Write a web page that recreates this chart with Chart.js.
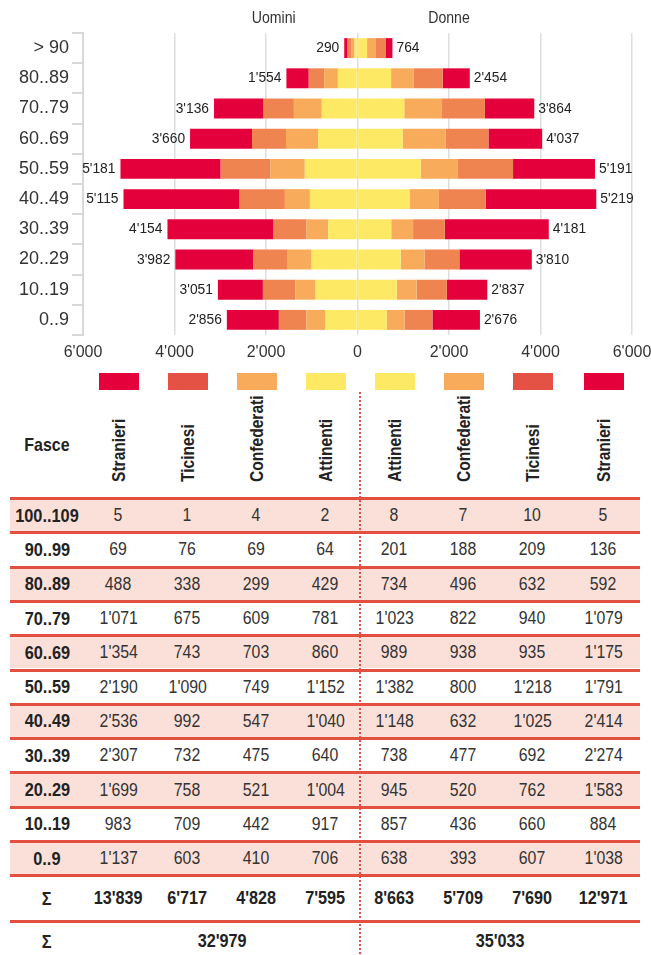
<!DOCTYPE html>
<html>
<head>
<meta charset="utf-8">
<script src="https://cdn.jsdelivr.net/npm/chart.js@4/dist/chart.umd.min.js"></script>
<style>
  body { margin: 0; background: #fff; }
  #page { position: relative; width: 651px; height: 955px; overflow: hidden;
          font-family: "Liberation Sans", Arial, sans-serif; color: #333; }
  #chartBox { position: absolute; left: 0; top: 0; width: 651px; height: 370px; }
  .row { position: absolute; left: 10px; width: 630px; display: grid;
         grid-template-columns: 74px repeat(7, 69px) 73px; align-items: center; }
  .row > div { text-align: center; white-space: nowrap; }
  .row span { display: inline-block; transform: scaleX(0.88); }
  .line { border-top: 3px solid #e4503f; box-sizing: border-box; }
  .pink { background: #fbe0d9; }
  .lab { font-weight: bold; font-size: 19px; color: #222; }
  .lab span { transform: scaleX(0.86); }
  .num { font-size: 18px; }
  .bold { font-weight: bold; font-size: 18px; color: #222; }
  .bold span { transform: scaleX(0.9); }
  .vcell { position: relative; height: 105px; }
  .row .vcell span { position: absolute; left: 50%; bottom: 15px; font-weight: bold; font-size: 19px;
          color: #222; line-height: 22px; transform-origin: 0 100%;
          transform: rotate(-90deg) translateY(50%) scaleX(0.82); }
  .sw { width: 40px; height: 17px; justify-self: center; }
  #divider { position: absolute; left: 359px; top: 392px; height: 570px; border-left: 2px dotted #e4503f; }
</style>
</head>
<body>
<div id="page">
  <div id="chartBox"><canvas id="pyramid"></canvas></div>
  <div id="table"></div>
  <div id="divider"></div>
</div>
<script>
// age bands in the table (top to bottom)
const ageGroups = ['100..109', '90..99', '80..89', '70..79', '60..69', '50..59', '40..49', '30..39', '20..29', '10..19', '0..9'];
// age bands in the chart (100..109 and 90..99 merged)
const chartLabels = ['> 90', '80..89', '70..79', '60..69', '50..59', '40..49', '30..39', '20..29', '10..19', '0..9'];
const groups = ['Stranieri', 'Ticinesi', 'Confederati', 'Attinenti'];

const menStranieri    = [5, 69, 488, 1071, 1354, 2190, 2536, 2307, 1699, 983, 1137];
const menTicinesi     = [1, 76, 338, 675, 743, 1090, 992, 732, 758, 709, 603];
const menConfederati  = [4, 69, 299, 609, 703, 749, 547, 475, 521, 442, 410];
const menAttinenti    = [2, 64, 429, 781, 860, 1152, 1040, 640, 1004, 917, 706];
const womenAttinenti   = [8, 201, 734, 1023, 989, 1382, 1148, 738, 945, 857, 638];
const womenConfederati = [7, 188, 496, 822, 938, 800, 632, 477, 520, 436, 393];
const womenTicinesi    = [10, 209, 632, 940, 935, 1218, 1025, 692, 762, 660, 607];
const womenStranieri   = [5, 136, 592, 1079, 1175, 1791, 2414, 2274, 1583, 884, 1038];

const xTicks = [-6000, -4000, -2000, 0, 2000, 4000, 6000];

const colStranieri = '#e4003b';
const colTicinesi = '#ef8451';
const colTicinesiKey = '#e35244';
const colConfederati = '#f7ab5b';
const colAttinenti = '#fde964';

const FONT = '"Liberation Sans", Arial, sans-serif';

const fmt = n => String(n).replace(/\B(?=(\d{3})+(?!\d))/g, "'");
const merge = arr => [arr[0] + arr[1], ...arr.slice(2)];
const sum = arr => arr.reduce((s, v) => s + v, 0);

const menRows = [menStranieri, menTicinesi, menConfederati, menAttinenti];
const womenRows = [womenAttinenti, womenConfederati, womenTicinesi, womenStranieri];
const menTotals = chartLabels.map((_, i) => sum(menRows.map(a => merge(a)[i])));
const womenTotals = chartLabels.map((_, i) => sum(womenRows.map(a => merge(a)[i])));

function ds(label, arr, color, sign) {
  return { label, data: merge(arr).map(v => v * sign), backgroundColor: color,
           borderWidth: 0, categoryPercentage: 1, barPercentage: 0.66 };
}

// narrow text, like the condensed font of the original
function narrowText(ctx, text, x, y, sx) {
  ctx.save();
  ctx.translate(x, y);
  ctx.scale(sx, 1);
  ctx.fillText(text, 0, 0);
  ctx.restore();
}

const totalsPlugin = {
  id: 'totals',
  afterDatasetsDraw(chart) {
    const { ctx, scales: { x, y } } = chart;
    ctx.save();
    ctx.fillStyle = '#222';
    ctx.textBaseline = 'middle';
    ctx.font = '15px ' + FONT;
    chartLabels.forEach((_, i) => {
      const yy = y.getPixelForValue(i);
      ctx.textAlign = 'right';
      narrowText(ctx, fmt(menTotals[i]), x.getPixelForValue(-menTotals[i]) - 5, yy, 0.92);
      ctx.textAlign = 'left';
      narrowText(ctx, fmt(womenTotals[i]), x.getPixelForValue(womenTotals[i]) + 4, yy, 0.92);
    });
    ctx.font = '17px ' + FONT;
    ctx.textAlign = 'center';
    ctx.fillStyle = '#333';
    narrowText(ctx, 'Uomini', x.getPixelForValue(-1830), 18, 0.83);
    narrowText(ctx, 'Donne', x.getPixelForValue(2000), 18, 0.83);
    ctx.restore();
  }
};

new Chart(document.getElementById('pyramid'), {
  type: 'bar',
  data: {
    labels: chartLabels,
    datasets: [
      ds('Attinenti', menAttinenti, colAttinenti, -1),
      ds('Confederati', menConfederati, colConfederati, -1),
      ds('Ticinesi', menTicinesi, colTicinesi, -1),
      ds('Stranieri', menStranieri, colStranieri, -1),
      ds('Attinenti', womenAttinenti, colAttinenti, 1),
      ds('Confederati', womenConfederati, colConfederati, 1),
      ds('Ticinesi', womenTicinesi, colTicinesi, 1),
      ds('Stranieri', womenStranieri, colStranieri, 1),
    ]
  },
  options: {
    indexAxis: 'y',
    responsive: true,
    maintainAspectRatio: false,
    animation: false,
    layout: { padding: { top: 33, right: 19, bottom: 0, left: 0 } },
    plugins: { legend: { display: false }, tooltip: { enabled: false } },
    scales: {
      x: {
        stacked: true,
        min: -6000, max: 6000,
        afterBuildTicks: s => { s.ticks = xTicks.map(v => ({ value: v })); },
        afterFit: s => { s.height = 35; s.paddingLeft = 0; s.paddingRight = 0; },
        ticks: { callback: v => fmt(Math.abs(v)), font: { size: 16, family: FONT }, color: '#333',
                 padding: 8, maxRotation: 0 },
        grid: { color: '#dedede', lineWidth: 1.5, drawTicks: false },
        border: { display: false }
      },
      y: {
        stacked: true,
        afterFit: s => { s.width = 83; s.paddingTop = 0; s.paddingBottom = 0; },
        ticks: { font: { size: 18, family: FONT }, color: '#333', padding: 3 },
        grid: { drawOnChartArea: false, drawTicks: true, tickLength: 11, color: '#d8d8d8', lineWidth: 2, offset: true },
        border: { display: true, color: '#d8d8d8', width: 2 }
      }
    }
  },
  plugins: [totalsPlugin]
});

// legend swatches + table
const table = document.getElementById('table');
const keyColors = [colStranieri, colTicinesiKey, colConfederati, colAttinenti,
                   colAttinenti, colConfederati, colTicinesiKey, colStranieri];
const headers = [...groups, ...groups.slice().reverse()];
const cols = [...menRows, ...womenRows];

function addRow(top, height, cells, cls) {
  const r = document.createElement('div');
  r.className = 'row ' + (cls || '');
  r.style.top = top + 'px';
  r.style.height = height + 'px';
  r.innerHTML = cells;
  table.appendChild(r);
  return r;
}

addRow(373, 17, '<div></div>' + keyColors.map(c => `<div class="sw" style="background:${c}"></div>`).join(''));
addRow(392, 105, '<div class="lab"><span style="transform:scaleX(0.84)">Fasce</span></div>' +
  headers.map(h => `<div class="vcell"><span>${h}</span></div>`).join(''));

const rowH = 34.3;
ageGroups.forEach((g, i) => {
  addRow(497 + i * rowH, rowH,
    `<div class="lab"><span>${g}</span></div>` + cols.map(a => `<div class="num"><span>${fmt(a[i])}</span></div>`).join(''),
    'line' + (i % 2 === 0 ? ' pink' : ''));
});
const sumTop = 497 + ageGroups.length * rowH;
addRow(sumTop, 920 - sumTop,
  '<div class="lab"><span>Σ</span></div>' + cols.map(a => `<div class="bold"><span>${fmt(sum(a))}</span></div>`).join(''), 'line');
addRow(920, 40,
  '<div class="lab"><span>Σ</span></div>' +
  `<div class="bold" style="grid-column: span 4"><span>${fmt(sum(menRows.map(sum)))}</span></div>` +
  `<div class="bold" style="grid-column: span 4"><span>${fmt(sum(womenRows.map(sum)))}</span></div>`, 'line');
</script>
</body>
</html>
